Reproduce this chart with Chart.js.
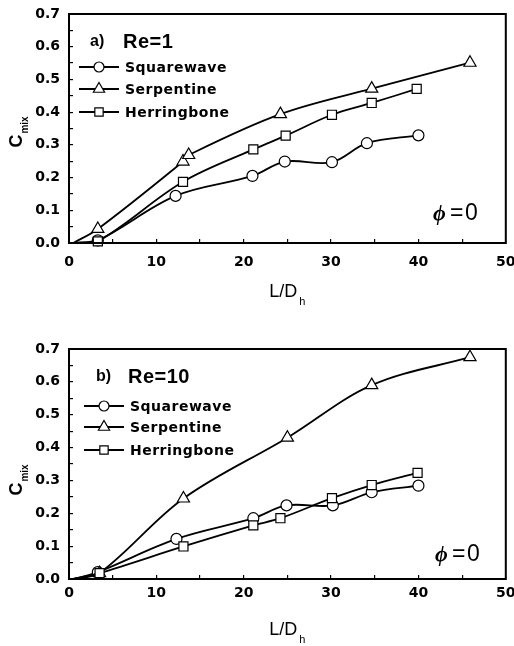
<!DOCTYPE html>
<html><head><meta charset="utf-8">
<script src="https://cdn.jsdelivr.net/npm/chart.js@4/dist/chart.umd.min.js"></script>
<style>
html,body{margin:0;padding:0;background:#fff;}
#wrap{position:relative;width:514px;height:646px;overflow:hidden;}
.box{position:absolute;left:0;width:514px;}
canvas{display:block;}
</style></head><body>
<div id="wrap">
<div class="box" style="top:0;height:320px"><canvas id="c1" width="514" height="320"></canvas></div>
<div class="box" style="top:320px;height:326px"><canvas id="c2" width="514" height="326"></canvas></div>
</div>
<script>
// ---- data ----
const seriesNames = ['Squarewave', 'Serpentine', 'Herringbone'];
const seriesStyles = ['circle', 'triangle', 'rect'];
const xTickValues = [0, 10, 20, 30, 40, 50];
const xTickLabels = ['0', '10', '20', '30', '40', '50'];
const yTickValues = [0, 0.1, 0.2, 0.3, 0.4, 0.5, 0.6, 0.7];
const yTickLabels = ['0.0', '0.1', '0.2', '0.3', '0.4', '0.5', '0.6', '0.7'];

// panel a) Re=1
const sqX1 = [0.5, 3.3, 12.2, 21.0, 24.7, 30.1, 34.1, 40.0];
const sqY1 = [0, 0.008, 0.144, 0.205, 0.249, 0.247, 0.305, 0.329];
const serX1 = [0.5, 3.3, 13.05, 13.7, 24.2, 34.65, 45.9];
const serY1 = [0, 0.043, 0.249, 0.269, 0.394, 0.472, 0.551];
const hbX1 = [0.5, 3.3, 13.05, 21.1, 24.8, 30.1, 34.65, 39.8];
const hbY1 = [0, 0.005, 0.187, 0.286, 0.328, 0.392, 0.428, 0.471];

// panel b) Re=10
const sqX2 = [0.5, 3.3, 12.3, 21.1, 24.9, 30.2, 34.65, 40.0];
const sqY2 = [0, 0.021, 0.122, 0.185, 0.224, 0.224, 0.264, 0.284];
const serX2 = [0.5, 3.5, 13.1, 25.0, 34.65, 45.9];
const serY2 = [0, 0.018, 0.245, 0.43, 0.59, 0.675];
const hbX2 = [0.5, 3.5, 13.1, 21.1, 24.2, 30.1, 34.65, 39.9];
const hbY2 = [0, 0.018, 0.099, 0.163, 0.185, 0.246, 0.286, 0.323];

// ---- helpers ----
const markerRadius = { circle: 5.5, triangle: 7, rect: 6.4 };

function zip(xs, ys) { return xs.map((x, i) => ({ x: x, y: ys[i] })); }

function labelFor(values, labels, v) {
  const j = values.findIndex(t => Math.abs(t - v) < 1e-6);
  return j >= 0 ? labels[j] : '';
}

function makeDatasets(xsList, ysList) {
  return xsList.map((xs, k) => {
    const style = seriesStyles[k];
    return {
      label: seriesNames[k],
      data: zip(xs, ysList[k]),
      borderColor: '#000',
      borderWidth: 1.8,
      pointStyle: style,
      pointRadius: xs.map((x, i) => i === 0 ? 0 : markerRadius[style]),
      pointBorderWidth: 1.2,
      pointBackgroundColor: '#fff',
      pointBorderColor: '#000',
      tension: 0.35,
      fill: false,
      clip: false,
      order: 3 - k
    };
  });
}

function seg(ctx, x1, y1, x2, y2) { ctx.beginPath(); ctx.moveTo(x1, y1); ctx.lineTo(x2, y2); ctx.stroke(); }

function overlayPlugin(p) {
  return {
    id: 'overlay' + p.id,
    afterDraw(chart) {
      const ctx = chart.ctx, xs = chart.scales.x, ys = chart.scales.y;
      const L = xs.getPixelForValue(0), R = xs.getPixelForValue(50);
      const B = ys.getPixelForValue(0), T = ys.getPixelForValue(0.7);

      // legend
      ctx.save();
      ctx.textBaseline = 'middle';
      ctx.textAlign = 'left';
      seriesNames.forEach((name, k) => {
        const y = p.legY[k];
        ctx.strokeStyle = '#000';
        ctx.lineWidth = 1.8;
        seg(ctx, p.legX1, y, p.legX2, y);
        ctx.fillStyle = '#fff';
        ctx.lineWidth = 1.2;
        Chart.helpers.drawPoint(ctx, { pointStyle: seriesStyles[k], radius: markerRadius[seriesStyles[k]] - 0.5, rotation: 0, borderWidth: 1.2 }, (p.legX1 + p.legX2) / 2, y);
        ctx.fillStyle = '#000';
        ctx.font = 'bold 14px "DejaVu Sans"';
        ctx.letterSpacing = '0.5px';
        ctx.fillText(name, p.legTextX, y + 1);
        ctx.letterSpacing = '0px';
      });
      // panel label
      ctx.fillStyle = '#000';
      ctx.font = 'bold 16px "Liberation Sans"';
      ctx.fillText(p.tag, p.tagX, p.tagY);
      ctx.font = 'bold 20px "Liberation Sans"';
      ctx.letterSpacing = '0.5px';
      ctx.fillText(p.re, p.reX, p.tagY);
      ctx.letterSpacing = '0px';
      // phi = 0
      ctx.font = 'italic bold 22px "Liberation Serif"';
      ctx.fillText('\u03D5', p.phiX, p.phiY);
      ctx.font = '23px "Liberation Sans"';
      ctx.letterSpacing = '1.5px';
      ctx.fillText('=0', p.phiX + 17, p.phiY);
      ctx.letterSpacing = '0px';
      ctx.restore();

      // y title C_mix (rotated)
      ctx.save();
      ctx.fillStyle = '#000';
      ctx.translate(p.yTitleX, p.yTitleY);
      ctx.rotate(-Math.PI / 2);
      ctx.textBaseline = 'alphabetic';
      ctx.textAlign = 'left';
      ctx.font = 'bold 18px "Liberation Sans"';
      const wC = ctx.measureText('C').width;
      ctx.font = 'bold 10px "Liberation Sans"';
      const wM = ctx.measureText('mix').width;
      const sx = -(wC + wM + 1) / 2;
      ctx.font = 'bold 18px "Liberation Sans"';
      ctx.fillText('C', sx, 6.5);
      ctx.font = 'bold 10px "Liberation Sans"';
      ctx.fillText('mix', sx + wC + 1, 12.5);
      ctx.restore();

      // x title L/D_h
      ctx.save();
      ctx.fillStyle = '#000';
      ctx.textBaseline = 'alphabetic';
      ctx.textAlign = 'left';
      ctx.font = '18px "Liberation Sans"';
      const wL = ctx.measureText('L/D').width;
      ctx.font = '11px "Liberation Sans"';
      const wh = ctx.measureText('h').width;
      const cx = (L + R) / 2;
      const x0 = cx - (wL + wh + 2) / 2;
      ctx.font = '18px "Liberation Sans"';
      ctx.fillText('L/D', x0, p.xTitleY);
      ctx.font = '11px "Liberation Sans"';
      ctx.fillText('h', x0 + wL + 2, p.xTitleY + 8);
      ctx.restore();

      // frame
      ctx.save();
      ctx.strokeStyle = '#000';
      ctx.lineWidth = 2;
      ctx.beginPath();
      ctx.rect(L, T, R - L, B - T);
      ctx.stroke();
      ctx.restore();
    }
  };
}

function makeChart(canvasId, p, xsList, ysList) {
  const H = p.height;
  return new Chart(document.getElementById(canvasId), {
    type: 'line',
    data: { datasets: makeDatasets(xsList, ysList) },
    options: {
      responsive: false,
      animation: false,
      devicePixelRatio: 1,
      layout: { padding: { left: 0, right: 7, top: p.top, bottom: 0 } },
      plugins: { legend: { display: false }, tooltip: { enabled: false }, title: { display: false } },
      scales: {
        x: {
          type: 'linear', min: 0, max: 50,
          grid: { display: true, drawOnChartArea: false, drawTicks: true, tickLength: -4, color: '#000', lineWidth: 1.2 },
          border: { display: true, color: '#000', width: 1.6 },
          afterBuildTicks: s => { const t = []; for (let k = 0; k <= 10; k++) t.push({ value: k * 5 }); s.ticks = t; },
          afterFit: s => { s.height = H - p.bottom; s.paddingLeft = 0; s.paddingRight = 0; },
          ticks: {
            padding: p.xTickPad + 4, color: '#000', maxRotation: 0, autoSkip: false,
            font: { family: 'DejaVu Sans', weight: 'bold', size: 14 },
            callback: v => labelFor(xTickValues, xTickLabels, v)
          }
        },
        y: {
          type: 'linear', min: 0, max: 0.7,
          grid: { display: true, drawOnChartArea: false, drawTicks: true, tickLength: -4, color: '#000', lineWidth: 1.2 },
          border: { display: true, color: '#000', width: 1.6 },
          afterBuildTicks: s => { const t = []; for (let k = 0; k <= 14; k++) t.push({ value: k * 0.05 }); s.ticks = t; },
          afterFit: s => { s.width = 69; s.paddingTop = 0; s.paddingBottom = 0; },
          ticks: {
            padding: 13, color: '#000', autoSkip: false,
            font: { family: 'DejaVu Sans', weight: 'bold', size: 14 },
            callback: v => labelFor(yTickValues, yTickLabels, v)
          }
        }
      }
    },
    plugins: [overlayPlugin(p)]
  });
}

makeChart('c1', {
  id: 1, height: 320, top: 14, bottom: 243, xTickPad: 11,
  legY: [67, 89, 112], legX1: 79, legX2: 119, legTextX: 125,
  tag: 'a)', tagX: 90, tagY: 42, re: 'Re=1', reX: 123,
  phiX: 433, phiY: 214, yTitleX: 15, yTitleY: 132, xTitleY: 297
}, [sqX1, serX1, hbX1], [sqY1, serY1, hbY1]);

makeChart('c2', {
  id: 2, height: 326, top: 29, bottom: 259, xTickPad: 6,
  legY: [86, 107, 130], legX1: 84, legX2: 124, legTextX: 130,
  tag: 'b)', tagX: 96, tagY: 57, re: 'Re=10', reX: 128,
  phiX: 435, phiY: 235, yTitleX: 15, yTitleY: 160, xTitleY: 315
}, [sqX2, serX2, hbX2], [sqY2, serY2, hbY2]);
</script>
</body></html>
